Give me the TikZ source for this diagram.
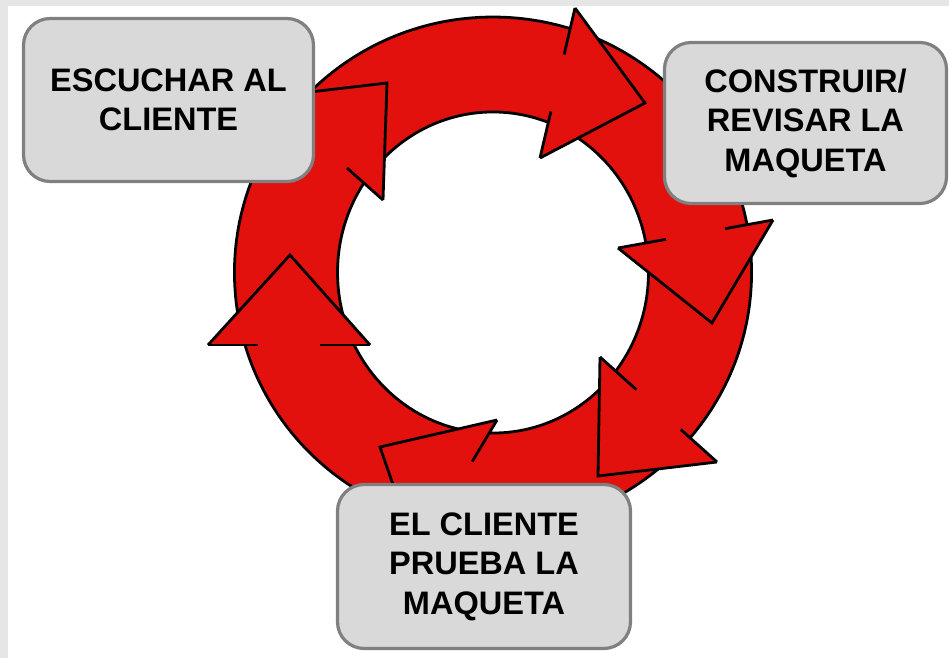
\documentclass[tikz,border=0pt]{standalone}
\usepackage{fontspec}
\setmainfont{Liberation Sans}
\usetikzlibrary{calc}
\definecolor{ringred}{RGB}{226,17,14}
\definecolor{boxfill}{RGB}{217,217,217}
\definecolor{boxline}{RGB}{128,128,128}
\definecolor{stripgray}{RGB}{230,230,230}
\begin{document}
\begin{tikzpicture}[x=0.75pt,y=-0.75pt,
  box/.style={draw=boxline, line width=2.4pt, fill=boxfill, rounded corners=20pt,
    align=center, inner sep=0pt, text=black,
    font=\bfseries\fontsize{24.4pt}{29.6pt}\selectfont},
  outline/.style={draw=black, line width=2.1pt},
  ringfill/.style={fill=ringred}]
\useasboundingbox (0,0) rectangle (949,658);
\fill[white] (0,0) rectangle (949,658);
\fill[stripgray] (0,0) rectangle (949,6);
\fill[stripgray] (0,0) rectangle (8,658);

% ring
\coordinate (c) at (493,272.5);
\fill[ringfill, even odd rule]
  (c) ellipse [x radius=193.9pt, y radius=191.6pt]
  (c) ellipse [x radius=116.6pt, y radius=120.4pt];
\draw[outline] (c) ellipse [x radius=193.9pt, y radius=191.6pt];
\draw[outline] (c) ellipse [x radius=116.6pt, y radius=120.4pt];

% arrowheads: corner a, tip, corner b
\foreach \ax/\ay/\tx/\ty/\bx/\by/\n in {
  575/8/645/103/540/158/1,
  618/248/712/323/773/220/2,
  717/462/598/476/600/357/3,
  497/420/380/447/417/554/4,
  208/345/290/255/370/345/5,
  267/97/387/83/383/200/6}{
  \coordinate (ha\n) at (\ax,\ay);
  \coordinate (ht\n) at (\tx,\ty);
  \coordinate (hb\n) at (\bx,\by);
  \fill[ringfill] (ha\n) -- (ht\n) -- (hb\n) -- cycle;
  \draw[outline] (ha\n) -- (ht\n) -- (hb\n);
  \draw[outline] (ha\n) -- ($(ha\n)!0.31!(hb\n)$);
  \draw[outline] (hb\n) -- ($(hb\n)!0.31!(ha\n)$);
}

% boxes
\node[box, minimum width=217.5pt, minimum height=122.25pt] (listen) at (168.5,100) {ESCUCHAR AL\\CLIENTE};
\node[box, minimum width=211.5pt, minimum height=120.75pt] (build) at (805.5,123) {CONSTRUIR/\\REVISAR LA\\MAQUETA};
\node[box, minimum width=219.75pt, minimum height=123pt] (test) at (484,566.5) {EL CLIENTE\\PRUEBA LA\\MAQUETA};
\end{tikzpicture}
\end{document}
